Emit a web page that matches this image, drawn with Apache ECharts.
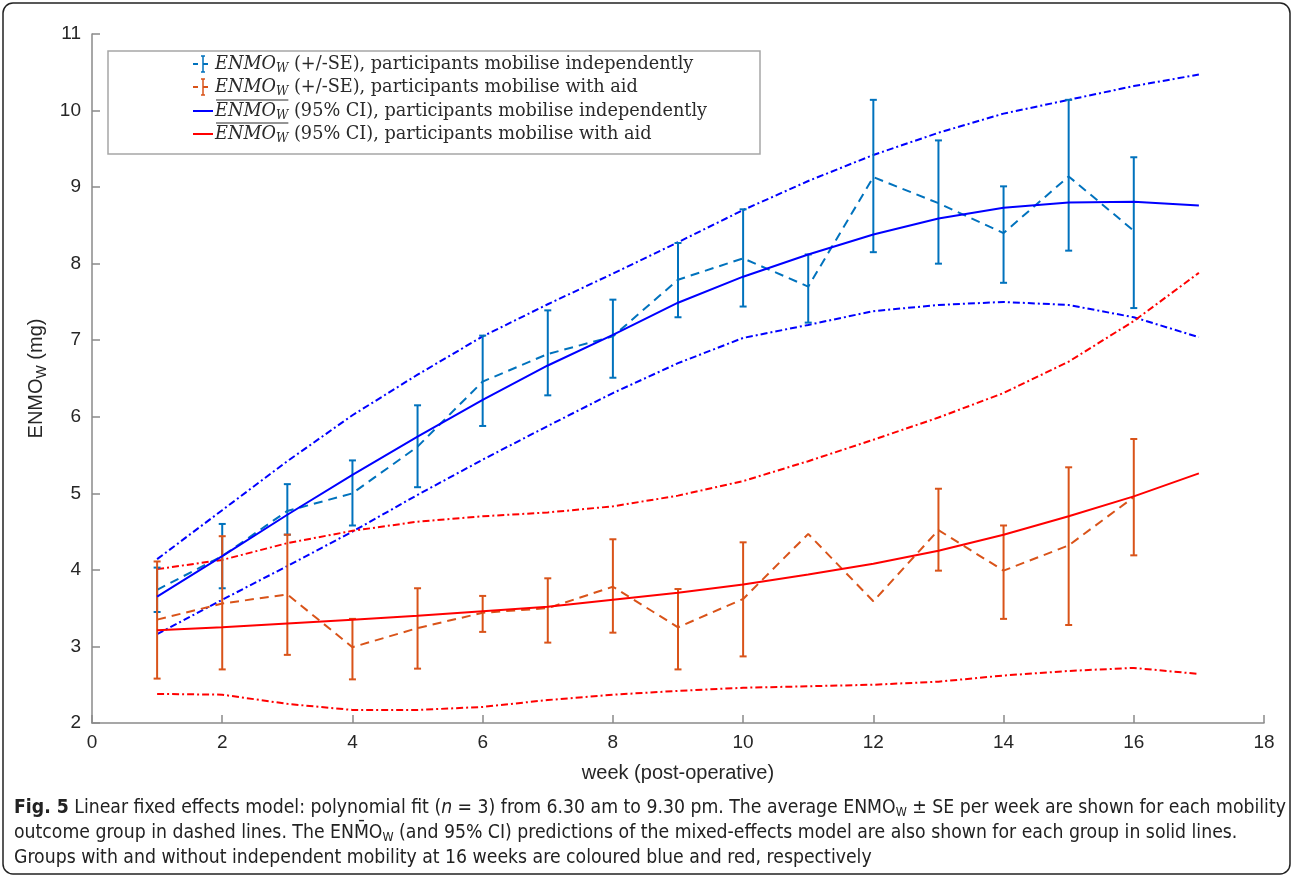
<!DOCTYPE html>
<html>
<head>
<meta charset="utf-8">
<script src="https://cdn.jsdelivr.net/npm/echarts@6/dist/echarts.min.js"></script>
<style>
html,body{margin:0;padding:0;background:#fff;}
#chart{width:1293px;height:877px;}
</style>
</head>
<body>
<div id="chart"></div>
<script>
// ---- data ----
const weeks = [1,2,3,4,5,6,7,8,9,10,11,12,13,14,15,16];
const fitWeeks = [1,2,3,4,5,6,7,8,9,10,11,12,13,14,15,16,17];

const blueMean = [3.74,4.18,4.77,5.00,5.61,6.46,6.82,7.05,7.79,8.07,7.70,9.13,8.79,8.40,9.14,8.43];
const blueLow  = [3.45,3.76,4.46,4.58,5.08,5.88,6.28,6.51,7.30,7.44,7.23,8.15,8.00,7.75,8.17,7.42];
const blueHigh = [4.03,4.60,5.12,5.43,6.15,7.06,7.39,7.53,8.27,8.71,8.12,10.14,9.61,9.01,10.14,9.39];

const redMean = [3.35,3.56,3.68,2.99,3.24,3.44,3.50,3.78,3.25,3.62,4.47,3.59,4.52,3.99,4.32,4.95];
const redLow  = [2.58,2.70,2.89,2.57,2.71,3.19,3.05,3.18,2.70,2.87,null,null,3.99,3.36,3.28,4.19];
const redHigh = [4.11,4.44,4.46,3.36,3.76,3.66,3.89,4.40,3.75,4.36,null,null,5.06,4.58,5.34,5.71];

const blueFit   = [3.65,4.18,4.72,5.24,5.74,6.22,6.67,7.07,7.49,7.83,8.12,8.38,8.59,8.73,8.80,8.81,8.76];
const blueUpper = [4.14,4.78,5.42,6.02,6.55,7.05,7.47,7.87,8.28,8.70,9.08,9.42,9.71,9.96,10.14,10.32,10.47];
const blueLower = [3.16,3.61,4.05,4.50,4.98,5.44,5.88,6.31,6.70,7.03,7.20,7.38,7.46,7.50,7.46,7.30,7.04];

const redFit   = [3.21,3.25,3.30,3.35,3.40,3.46,3.52,3.61,3.70,3.81,3.94,4.08,4.25,4.46,4.70,4.96,5.26];
const redUpper = [4.01,4.13,4.35,4.51,4.63,4.70,4.75,4.83,4.97,5.16,5.42,5.70,5.99,6.31,6.72,7.25,7.88];
const redLower = [2.38,2.37,2.25,2.17,2.17,2.21,2.30,2.37,2.42,2.46,2.48,2.50,2.54,2.62,2.68,2.72,2.64];

const xTicks = [0,2,4,6,8,10,12,14,16,18];
const yTicks = [2,3,4,5,6,7,8,9,10,11];

const legendLabels = [
  ['ENMO', 'W', ' (+/-SE), participants mobilise independently'],
  ['ENMO', 'W', ' (+/-SE), participants mobilise with aid'],
  ['ENMO', 'W', ' (95% CI), participants mobilise independently'],
  ['ENMO', 'W', ' (95% CI), participants mobilise with aid']
];
const captionLines = [
  '{b|Fig. 5} Linear fixed effects model: polynomial fit ({i|n} = 3) from 6.30 am to 9.30 pm. The average ENMO{s|W} ± SE per week are shown for each mobility',
  'outcome group in dashed lines. The ENM\u0304O{s|W} (and 95% CI) predictions of the mixed-effects model are also shown for each group in solid lines.',
  'Groups with and without independent mobility at 16 weeks are coloured blue and red, respectively'
];

// ---- styles ----
const C_BLUE_D = '#0072BD', C_RED_D = '#D95319', C_BLUE = '#0000FF', C_RED = '#FF0000';
const dashDot = [7,3,2,3];
const dashed = [9,6];

function pairs(xs, ys){ return xs.map((x,i)=>[x, ys[i]]); }
function bars(xs, lo, hi){ const out=[]; xs.forEach((x,i)=>{ if(lo[i]!=null && hi[i]!=null) out.push([x, lo[i], hi[i]]); }); return out; }

function errRender(color){
  return function(params, api){
    const x = api.value(0);
    const a = api.coord([x, api.value(1)]);
    const b = api.coord([x, api.value(2)]);
    const cw = 3.5;
    const st = {stroke: color, lineWidth: 2};
    return {type:'group', children:[
      {type:'line', shape:{x1:a[0],y1:a[1],x2:b[0],y2:b[1]}, style:st},
      {type:'line', shape:{x1:a[0]-cw,y1:a[1],x2:a[0]+cw,y2:a[1]}, style:st},
      {type:'line', shape:{x1:b[0]-cw,y1:b[1],x2:b[0]+cw,y2:b[1]}, style:st}
    ]};
  };
}

function lineSeries(name, data, color, type, width, z){
  return {name, type:'line', data, showSymbol:false, symbol:'none', smooth:false,
    lineStyle:{color, type, width}, itemStyle:{color}, z: z||2, silent:true};
}

// ---- measure helpers ----
const cv = document.createElement('canvas').getContext('2d');
function tw(font, s){ cv.font = font; return cv.measureText(s).width; }

const SERIF = '"DejaVu Serif", "Liberation Serif", serif';
const SANS = '"Liberation Sans", Arial, sans-serif';
const NARROW = '"Liberation Sans Narrow", "DejaVu Sans Condensed", "Liberation Sans", sans-serif';

// legend layout
const LG = {x:108, y:51, w:652, h:103, rows:[64,87,111,134], icon0:193, text0:215};
const legendTarget = 478;
const row1W = tw('italic 17px '+SERIF, 'ENMO') + tw('italic 11px '+SERIF, 'W') + tw('17px '+SERIF, legendLabels[0][2]);
const LFS = Math.max(13, Math.min(22, 17*legendTarget/row1W));
const SFS = LFS*0.68;
const legendGraphics = [];
legendGraphics.push({type:'rect', shape:{x:LG.x, y:LG.y, width:LG.w, height:LG.h}, style:{fill:'#fff', stroke:'#a6a6a6', lineWidth:1.5}, z:100});
const iconColors = [C_BLUE_D, C_RED_D, C_BLUE, C_RED];
legendLabels.forEach((lab, i)=>{
  const cy = LG.rows[i];
  const col = iconColors[i];
  if(i<2){
    legendGraphics.push({type:'line', shape:{x1:LG.icon0, y1:cy, x2:LG.icon0+5, y2:cy}, style:{stroke:col, lineWidth:2}, z:101});
    legendGraphics.push({type:'line', shape:{x1:LG.icon0+10, y1:cy, x2:LG.icon0+15, y2:cy}, style:{stroke:col, lineWidth:2}, z:101});
    legendGraphics.push({type:'line', shape:{x1:LG.icon0+10, y1:cy-8, x2:LG.icon0+10, y2:cy+8}, style:{stroke:col, lineWidth:1.5}, z:101});
    legendGraphics.push({type:'line', shape:{x1:LG.icon0+8, y1:cy-8, x2:LG.icon0+12, y2:cy-8}, style:{stroke:col, lineWidth:1.5}, z:101});
    legendGraphics.push({type:'line', shape:{x1:LG.icon0+8, y1:cy+8, x2:LG.icon0+12, y2:cy+8}, style:{stroke:col, lineWidth:1.5}, z:101});
  } else {
    legendGraphics.push({type:'line', shape:{x1:LG.icon0, y1:cy, x2:LG.icon0+20, y2:cy}, style:{stroke:col, lineWidth:2}, z:101});
  }
  legendGraphics.push({type:'text', x:LG.text0, y:cy, z:101, style:{
    text:'{i|'+lab[0]+'}{s|'+lab[1]+'}{n|'+lab[2]+'}',
    verticalAlign:'middle', fill:'#2a2a2a',
    rich:{
      i:{fontFamily:SERIF, fontStyle:'italic', fontSize:LFS, fill:'#2a2a2a'},
      s:{fontFamily:SERIF, fontStyle:'italic', fontSize:SFS, padding:[9,0,0,0], fill:'#2a2a2a'},
      n:{fontFamily:SERIF, fontSize:LFS, fill:'#2a2a2a'}
    }
  }});
  if(i>=2){
    const ow = tw('italic '+LFS+'px '+SERIF, lab[0]) + tw('italic '+SFS+'px '+SERIF, lab[1]);
    legendGraphics.push({type:'line', shape:{x1:LG.text0+1, y1:cy-11, x2:LG.text0+ow, y2:cy-11}, style:{stroke:'#2a2a2a', lineWidth:1}, z:101});
  }
});

// caption
const capTarget = 1270;
const plain1 = 'Fig. 5 Linear fixed effects model: polynomial fit (n = 3) from 6.30 am to 9.30 pm. The average ENMOW ± SE per week are shown for each mobility';
const baseW = tw('20px '+NARROW, plain1);
const CFS = Math.max(14, Math.min(24, 20*capTarget/baseW));
const captionGraphics = captionLines.map((ln, i)=>({
  type:'text', x:14, y:808 + i*25, z:100,
  style:{text: ln, verticalAlign:'middle', fill:'#222', fontFamily:NARROW, fontSize:CFS,
    rich:{
      b:{fontFamily:NARROW, fontWeight:'bold', fontSize:CFS, fill:'#222'},
      i:{fontFamily:NARROW, fontStyle:'italic', fontSize:CFS, fill:'#222'},
      s:{fontFamily:NARROW, fontSize:CFS*0.65, padding:[9,0,0,0], fill:'#222'}
    }}
}));

const chart = echarts.init(document.getElementById('chart'), null, {renderer:'canvas'});
const option = {
  animation:false,
  backgroundColor:'#ffffff',
  grid:{left:92, right:29, top:34, bottom:154, containLabel:false},
  xAxis:{type:'value', min:xTicks[0], max:xTicks[xTicks.length-1], interval:2,
    name:'week (post-operative)', nameLocation:'middle', nameGap:40,
    nameTextStyle:{fontFamily:SANS, fontSize:20, color:'#262626'},
    axisLine:{show:true, lineStyle:{color:'#8a8a8a', width:1.5}},
    axisTick:{show:true, inside:true, length:8, lineStyle:{color:'#8a8a8a', width:1.5}},
    axisLabel:{fontFamily:SANS, fontSize:19, color:'#262626', margin:10},
    splitLine:{show:false}},
  yAxis:{type:'value', min:yTicks[0], max:yTicks[yTicks.length-1], interval:1,
    name:'{a|ENMO}{s|W}{a| (mg)}', nameLocation:'middle', nameGap:42, nameRotate:90,
    nameTextStyle:{fontFamily:SANS, fontSize:20, color:'#262626',
      rich:{a:{fontFamily:SANS, fontSize:20, color:'#262626'}, s:{fontFamily:SANS, fontSize:14, color:'#262626', padding:[10,0,0,0]}}},
    axisLine:{show:true, lineStyle:{color:'#8a8a8a', width:1.5}},
    axisTick:{show:true, inside:true, length:8, lineStyle:{color:'#8a8a8a', width:1.5}},
    axisLabel:{fontFamily:SANS, fontSize:19, color:'#262626', margin:11},
    splitLine:{show:false}},
  series:[
    lineSeries('blueUpper', pairs(fitWeeks, blueUpper), C_BLUE, dashDot, 2),
    lineSeries('blueLower', pairs(fitWeeks, blueLower), C_BLUE, dashDot, 2),
    lineSeries('redUpper', pairs(fitWeeks, redUpper), C_RED, dashDot, 2),
    lineSeries('redLower', pairs(fitWeeks, redLower), C_RED, dashDot, 2),
    lineSeries('blueMean', pairs(weeks, blueMean), C_BLUE_D, dashed, 2, 3),
    lineSeries('redMean', pairs(weeks, redMean), C_RED_D, dashed, 2, 3),
    {name:'blueSE', type:'custom', renderItem:errRender(C_BLUE_D), data:bars(weeks, blueLow, blueHigh), encode:{x:0, y:[1,2]}, z:4, silent:true},
    {name:'redSE', type:'custom', renderItem:errRender(C_RED_D), data:bars(weeks, redLow, redHigh), encode:{x:0, y:[1,2]}, z:4, silent:true},
    lineSeries('blueFit', pairs(fitWeeks, blueFit), C_BLUE, 'solid', 2, 5),
    lineSeries('redFit', pairs(fitWeeks, redFit), C_RED, 'solid', 2, 5)
  ],
  graphic:[
    {type:'rect', shape:{x:3, y:3, width:1287, height:871, r:10}, style:{fill:null, stroke:'#222', lineWidth:1.5}, z:0, silent:true}
  ].concat(legendGraphics, captionGraphics)
};
chart.setOption(option);
</script>
</body>
</html>
